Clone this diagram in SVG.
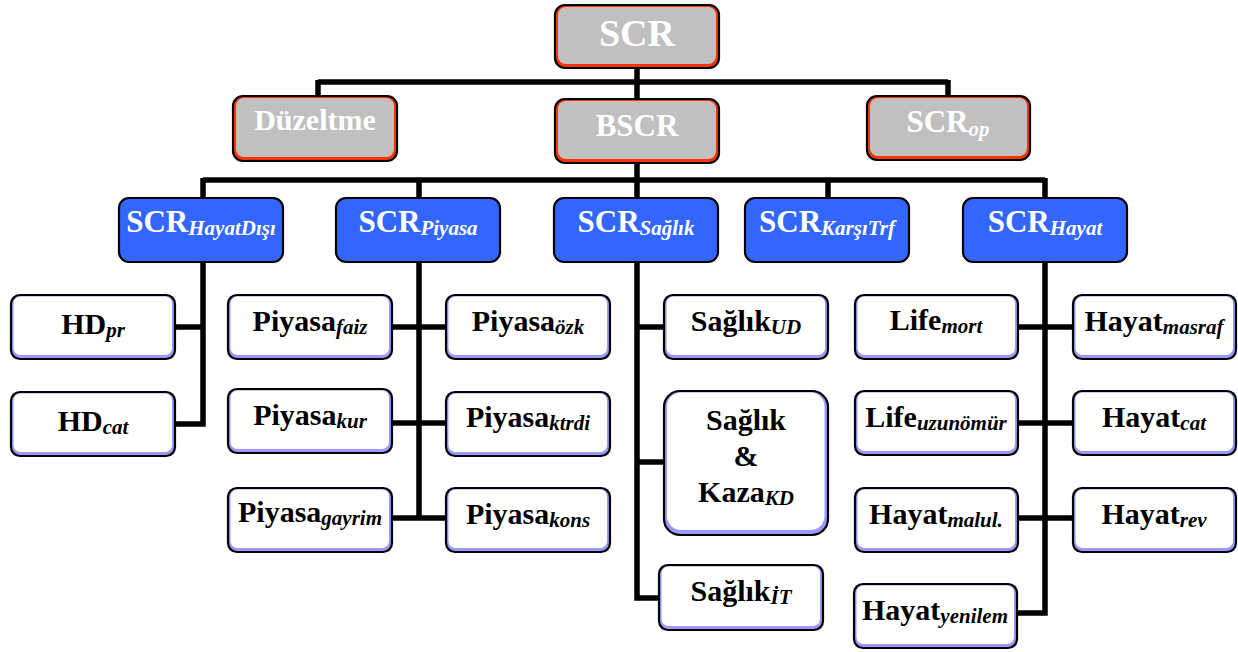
<svg xmlns="http://www.w3.org/2000/svg" width="1238" height="652" viewBox="0 0 1238 652">
  <style>
    .wire { fill: none; stroke: #000; stroke-width: 5.5; stroke-linecap: butt; stroke-linejoin: miter; }
    .edge { stroke: #000; stroke-width: 2.2; }
    .gray-rim { fill: #ff3300; }
    .gray-face { fill: #c0c0c0; }
    .blue { fill: #3366ff; }
    .lav-rim { fill: #9999ff; }
    .white-face { fill: #ffffff; }
    .lbl { font-family: "Liberation Serif", "Times New Roman", serif; font-weight: bold; text-anchor: middle; }
    .leaf { font-size: 30px; }
    .leaf .sub { font-size: 21px; }
    .w { fill: #ffffff; }
    .k { fill: #000000; }
    .sub { font-style: italic; }
  </style>

  <!-- connectors -->
  <g id="connectors">
    <path class="wire" d="M637 68 V82 M318 82 H948 M318 80 V96 M637 82 V99 M948 80 V96"/>
    <path class="wire" d="M637 163 V180 M203 180 H1045 M203 178 V198 M419 180 V198 M637 180 V198 M828 180 V198 M1045 178 V198"/>
    <!-- HayatDışı branch -->
    <path class="wire" d="M203 262 V424 H175 M175 327 H203"/>
    <!-- Piyasa branch -->
    <path class="wire" d="M419 262 V520 M392 327 H446 M392 423 H446 M392 518 H446"/>
    <!-- Sağlık branch -->
    <path class="wire" d="M637 262 V598 H659 M637 327 H664 M637 462 H664"/>
    <!-- Hayat branch -->
    <path class="wire" d="M1045 262 V613 H1017 M1017 327 H1073 M1017 423 H1073 M1017 518 H1073"/>
  </g>

  <!-- top level -->
  <g id="scr">
    <rect class="gray-rim edge" x="555" y="5" width="164" height="63" rx="10"/>
    <rect class="gray-face" x="558" y="7" width="158" height="57" rx="8"/>
    <text class="lbl w" x="637" y="46" font-size="38">SCR</text>
  </g>

  <g id="duzeltme">
    <rect class="gray-rim edge" x="233" y="96" width="164" height="65" rx="10"/>
    <rect class="gray-face" x="236" y="98" width="158" height="59" rx="8"/>
    <text class="lbl w" x="315" y="130" font-size="30">Düzeltme</text>
  </g>

  <g id="bscr">
    <rect class="gray-rim edge" x="555" y="99" width="164" height="64" rx="10"/>
    <rect class="gray-face" x="558" y="101" width="158" height="58" rx="8"/>
    <text class="lbl w" x="637" y="136" font-size="31">BSCR</text>
  </g>

  <g id="scr-op">
    <rect class="gray-rim edge" x="867" y="96" width="163" height="64" rx="10"/>
    <rect class="gray-face" x="870" y="98" width="157" height="58" rx="8"/>
    <text class="lbl w" x="948" y="132" font-size="31">SCR<tspan class="sub" font-size="21" dy="4">op</tspan></text>
  </g>

  <!-- second level (blue) -->
  <g id="scr-hayatdisi">
    <rect class="blue edge" x="119" y="198" width="164" height="64" rx="10"/>
    <text class="lbl w" x="201" y="232" font-size="31">SCR<tspan class="sub" font-size="21" dy="3">HayatDışı</tspan></text>
  </g>
  <g id="scr-piyasa">
    <rect class="blue edge" x="336" y="198" width="164" height="64" rx="10"/>
    <text class="lbl w" x="418" y="232" font-size="31">SCR<tspan class="sub" font-size="21" dy="3">Piyasa</tspan></text>
  </g>
  <g id="scr-saglik">
    <rect class="blue edge" x="554" y="198" width="164" height="64" rx="10"/>
    <text class="lbl w" x="636" y="232" font-size="31">SCR<tspan class="sub" font-size="21" dy="3">Sağlık</tspan></text>
  </g>
  <g id="scr-karsitrf">
    <rect class="blue edge" x="745" y="198" width="164" height="64" rx="10"/>
    <text class="lbl w" x="827" y="232" font-size="31">SCR<tspan class="sub" font-size="21" dy="3">KarşıTrf</tspan></text>
  </g>
  <g id="scr-hayat">
    <rect class="blue edge" x="963" y="198" width="164" height="64" rx="10"/>
    <text class="lbl w" x="1045" y="232" font-size="31">SCR<tspan class="sub" font-size="21" dy="3">Hayat</tspan></text>
  </g>

  <!-- leaf modules -->
  <g id="hd-pr">
    <rect class="lav-rim edge" x="11" y="295" width="164" height="64" rx="9"/>
    <rect class="white-face" x="13.5" y="296.5" width="158.5" height="58.5" rx="7"/>
    <text class="lbl leaf k" x="93" y="334">HD<tspan class="sub" dy="3">pr</tspan></text>
  </g>
  <g id="hd-cat">
    <rect class="lav-rim edge" x="11" y="392" width="164" height="64" rx="9"/>
    <rect class="white-face" x="13.5" y="393.5" width="158.5" height="58.5" rx="7"/>
    <text class="lbl leaf k" x="93" y="431">HD<tspan class="sub" dy="3">cat</tspan></text>
  </g>

  <g id="piyasa-faiz">
    <rect class="lav-rim edge" x="228" y="295" width="164" height="64" rx="9"/>
    <rect class="white-face" x="230.5" y="296.5" width="158.5" height="58.5" rx="7"/>
    <text class="lbl leaf k" x="310" y="331">Piyasa<tspan class="sub" dy="3">faiz</tspan></text>
  </g>
  <g id="piyasa-kur">
    <rect class="lav-rim edge" x="228" y="389" width="164" height="64" rx="9"/>
    <rect class="white-face" x="230.5" y="390.5" width="158.5" height="58.5" rx="7"/>
    <text class="lbl leaf k" x="310" y="425">Piyasa<tspan class="sub" dy="3">kur</tspan></text>
  </g>
  <g id="piyasa-gayrim">
    <rect class="lav-rim edge" x="228" y="488" width="164" height="64" rx="9"/>
    <rect class="white-face" x="230.5" y="489.5" width="158.5" height="58.5" rx="7"/>
    <text class="lbl leaf k" x="310" y="522">Piyasa<tspan class="sub" dy="3">gayrim</tspan></text>
  </g>
  <g id="piyasa-ozk">
    <rect class="lav-rim edge" x="446" y="295" width="164" height="64" rx="9"/>
    <rect class="white-face" x="448.5" y="296.5" width="158.5" height="58.5" rx="7"/>
    <text class="lbl leaf k" x="528" y="331">Piyasa<tspan class="sub" dy="3">özk</tspan></text>
  </g>
  <g id="piyasa-ktrdi">
    <rect class="lav-rim edge" x="446" y="392" width="164" height="64" rx="9"/>
    <rect class="white-face" x="448.5" y="393.5" width="158.5" height="58.5" rx="7"/>
    <text class="lbl leaf k" x="528" y="427">Piyasa<tspan class="sub" dy="3">ktrdi</tspan></text>
  </g>
  <g id="piyasa-kons">
    <rect class="lav-rim edge" x="446" y="488" width="164" height="64" rx="9"/>
    <rect class="white-face" x="448.5" y="489.5" width="158.5" height="58.5" rx="7"/>
    <text class="lbl leaf k" x="528" y="524">Piyasa<tspan class="sub" dy="3">kons</tspan></text>
  </g>

  <g id="saglik-ud">
    <rect class="lav-rim edge" x="664" y="295" width="164" height="64" rx="9"/>
    <rect class="white-face" x="666.5" y="296.5" width="158.5" height="58.5" rx="7"/>
    <text class="lbl leaf k" x="746" y="331">Sağlık<tspan class="sub" dy="3">UD</tspan></text>
  </g>
  <g id="saglik-kaza">
    <rect class="lav-rim edge" x="664" y="391" width="164" height="144" rx="16"/>
    <rect class="white-face" x="667" y="392.5" width="157.5" height="137.5" rx="14"/>
    <text class="lbl leaf k" x="746" y="430">Sağlık</text>
    <text class="lbl leaf k" x="746" y="466">&amp;</text>
    <text class="lbl leaf k" x="746" y="502">Kaza<tspan class="sub" dy="3">KD</tspan></text>
  </g>
  <g id="saglik-it">
    <rect class="lav-rim edge" x="659" y="565" width="164" height="65" rx="9"/>
    <rect class="white-face" x="661.5" y="566.5" width="158.5" height="59.5" rx="7"/>
    <text class="lbl leaf k" x="741" y="601">Sağlık<tspan class="sub" dy="3">İT</tspan></text>
  </g>

  <g id="life-mort">
    <rect class="lav-rim edge" x="855" y="295" width="163" height="64" rx="9"/>
    <rect class="white-face" x="857.5" y="296.5" width="157.5" height="58.5" rx="7"/>
    <text class="lbl leaf k" x="936" y="330">Life<tspan class="sub" dy="3">mort</tspan></text>
  </g>
  <g id="life-uzunomur">
    <rect class="lav-rim edge" x="855" y="391" width="163" height="64" rx="9"/>
    <rect class="white-face" x="857.5" y="392.5" width="157.5" height="58.5" rx="7"/>
    <text class="lbl leaf k" x="936" y="427">Life<tspan class="sub" dy="3">uzunömür</tspan></text>
  </g>
  <g id="hayat-malul">
    <rect class="lav-rim edge" x="855" y="488" width="163" height="64" rx="9"/>
    <rect class="white-face" x="857.5" y="489.5" width="157.5" height="58.5" rx="7"/>
    <text class="lbl leaf k" x="936" y="524">Hayat<tspan class="sub" dy="3">malul.</tspan></text>
  </g>
  <g id="hayat-yenilem">
    <rect class="lav-rim edge" x="854" y="584" width="163" height="64" rx="9"/>
    <rect class="white-face" x="856.5" y="585.5" width="157.5" height="58.5" rx="7"/>
    <text class="lbl leaf k" x="935" y="620">Hayat<tspan class="sub" dy="3">yenilem</tspan></text>
  </g>
  <g id="hayat-masraf">
    <rect class="lav-rim edge" x="1073" y="295" width="163" height="64" rx="9"/>
    <rect class="white-face" x="1075.5" y="296.5" width="157.5" height="58.5" rx="7"/>
    <text class="lbl leaf k" x="1154" y="331">Hayat<tspan class="sub" dy="3">masraf</tspan></text>
  </g>
  <g id="hayat-cat">
    <rect class="lav-rim edge" x="1073" y="391" width="163" height="64" rx="9"/>
    <rect class="white-face" x="1075.5" y="392.5" width="157.5" height="58.5" rx="7"/>
    <text class="lbl leaf k" x="1154" y="427">Hayat<tspan class="sub" dy="3">cat</tspan></text>
  </g>
  <g id="hayat-rev">
    <rect class="lav-rim edge" x="1073" y="488" width="163" height="64" rx="9"/>
    <rect class="white-face" x="1075.5" y="489.5" width="157.5" height="58.5" rx="7"/>
    <text class="lbl leaf k" x="1154" y="524">Hayat<tspan class="sub" dy="3">rev</tspan></text>
  </g>
</svg>
